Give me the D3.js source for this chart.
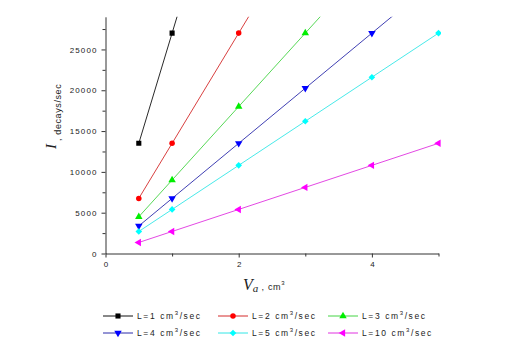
<!DOCTYPE html>
<html><head><meta charset="utf-8">
<script src="https://cdn.jsdelivr.net/npm/d3@7"></script>
<style>body{margin:0;background:#fff}svg{display:block}</style>
</head><body>
<svg id="c" width="508" height="355"></svg>
<script>
const volumes = [0.5, 1, 2, 3, 4, 5];
const seriesNames = ["L=1", "L=2", "L=3", "L=4", "L=5", "L=10"];
const sL1  = [13500, 27000, 54000, 81000, 108000, 135000];
const sL2  = [6750, 13500, 27000, 40500, 54000, 67500];
const sL3  = [4500, 9000, 18000, 27000, 36000, 45000];
const sL4  = [3375, 6750, 13500, 20250, 27000, 33750];
const sL5  = [2700, 5400, 10800, 16200, 21600, 27000];
const sL10 = [1350, 2700, 5400, 8100, 10800, 13500];
const xMajorTicks = [0, 2, 4];
const xMinorTicks = [1, 3, 5];
const yMajorTicks = [0, 5000, 10000, 15000, 20000, 25000];
const yMinorTicks = [2500, 7500, 12500, 17500, 22500, 27500];

const seriesValues = [sL1, sL2, sL3, sL4, sL5, sL10];
const colors = ["#000000", "#ff0000", "#00ee00", "#0000ff", "#00ffff", "#ff00ff"];
const lineColors = ["#111111", "#d42a2a", "#44d444", "#2a2aaa", "#33e6e6", "#e033e0"];
const symbols = [
  {t: d3.symbolSquare, s: 26, r: 0},
  {t: d3.symbolCircle, s: 24, r: 0},
  {t: d3.symbolTriangle, s: 24, r: 0},
  {t: d3.symbolTriangle, s: 24, r: 180},
  {t: d3.symbolSquare, s: 22, r: 45},
  {t: d3.symbolTriangle, s: 24, r: -90}
];

const svg = d3.select("#c");
const x = d3.scaleLinear().domain([0, 5]).range([105.5, 438.5]);
const y = d3.scaleLinear().domain([0, 29000]).range([253.5, 16.8]);

svg.append("defs").append("clipPath").attr("id", "clip")
  .append("rect").attr("x", 105).attr("y", 16.8).attr("width", 336).attr("height", 237);

const fontT = "Arial, 'Liberation Sans', sans-serif";

// axes
const yAxis = svg.append("g").attr("transform", "translate(105.5,0)");
yAxis.call(d3.axisLeft(y).tickValues(yMajorTicks).tickSize(4).tickSizeOuter(0).tickFormat(d3.format("d")));
yAxis.selectAll(".tick text").attr("font-size", 8).attr("font-family", fontT)
  .attr("letter-spacing", "1.1px").attr("fill", "#222").attr("x", -8);
const yMinor = svg.append("g").attr("transform", "translate(105.5,0)");
yMinor.call(d3.axisLeft(y).tickValues(yMinorTicks).tickSize(3).tickSizeOuter(0).tickFormat(""));
yMinor.select(".domain").remove();

const xAxis = svg.append("g").attr("transform", "translate(0,253.5)");
xAxis.call(d3.axisBottom(x).tickValues(xMajorTicks).tickSize(4).tickSizeOuter(0).tickFormat(d3.format("d")));
xAxis.selectAll(".tick text").attr("font-size", 8).attr("font-family", fontT).attr("fill", "#222").attr("y", 8);
const xMinor = svg.append("g").attr("transform", "translate(0,253.5)");
xMinor.call(d3.axisBottom(x).tickValues(xMinorTicks).tickSize(3).tickSizeOuter(0).tickFormat(""));
xMinor.select(".domain").remove();
svg.selectAll(".domain, .tick line").attr("stroke", "#333");

// series
const plot = svg.append("g").attr("clip-path", "url(#clip)");
const line = d3.line().x((d, i) => x(volumes[i])).y(d => y(d));
seriesValues.forEach((vals, k) => {
  plot.append("path").attr("d", line(vals)).attr("fill", "none")
    .attr("stroke", lineColors[k]).attr("stroke-width", 0.9);
  const sym = d3.symbol().type(symbols[k].t).size(symbols[k].s);
  plot.selectAll(null).data(vals).enter().append("path")
    .attr("d", sym)
    .attr("transform", (d, i) => `translate(${x(volumes[i])},${y(d)}) rotate(${symbols[k].r})`)
    .attr("fill", colors[k]);
});

// y title
const yt = svg.append("text").attr("transform", "translate(55.5,149) rotate(-90)").attr("fill", "#222");
yt.append("tspan").text("I").attr("font-family", "'Liberation Serif', 'Times New Roman', serif")
  .attr("font-style", "italic").attr("font-size", 15);
yt.append("tspan").text(" , decays/sec").attr("font-family", fontT).attr("font-size", 9)
  .attr("letter-spacing", "0.6px").attr("dy", 5);

// x title
const xt = svg.append("text").attr("x", 243).attr("y", 290).attr("fill", "#222");
xt.append("tspan").text("V").attr("font-family", "'Liberation Serif', 'Times New Roman', serif")
  .attr("font-style", "italic").attr("font-size", 16);
xt.append("tspan").text("a").attr("font-family", "'Liberation Serif', 'Times New Roman', serif")
  .attr("font-style", "italic").attr("font-size", 11).attr("dy", 2);
xt.append("tspan").text(" , cm").attr("font-family", fontT).attr("font-size", 9).attr("dy", -2).attr("letter-spacing", "0.7px");
xt.append("tspan").text("3").attr("font-family", fontT).attr("font-size", 6).attr("dy", -5);

// legend
const legendPos = [[103, 316], [218, 316], [328, 316], [103, 333], [218, 333], [328, 333]];
seriesNames.forEach((name, k) => {
  const [lx, ly] = legendPos[k];
  const g = svg.append("g").attr("transform", `translate(${lx},${ly})`);
  g.append("line").attr("x1", 0).attr("x2", 30).attr("y1", 0).attr("y2", 0)
    .attr("stroke", lineColors[k]).attr("stroke-width", 1);
  g.append("path").attr("d", d3.symbol().type(symbols[k].t).size(symbols[k].s))
    .attr("transform", `translate(15,0) rotate(${symbols[k].r})`).attr("fill", colors[k]);
  const t = g.append("text").attr("x", 34).attr("y", 3).attr("font-family", fontT)
    .attr("font-size", 8.5).attr("letter-spacing", "1.6px").attr("fill", "#222");
  t.append("tspan").text(name + " cm");
  t.append("tspan").text("3").attr("font-size", 6).attr("dy", -4);
  t.append("tspan").text("/sec").attr("dy", 4);
});
</script>
</body></html>
